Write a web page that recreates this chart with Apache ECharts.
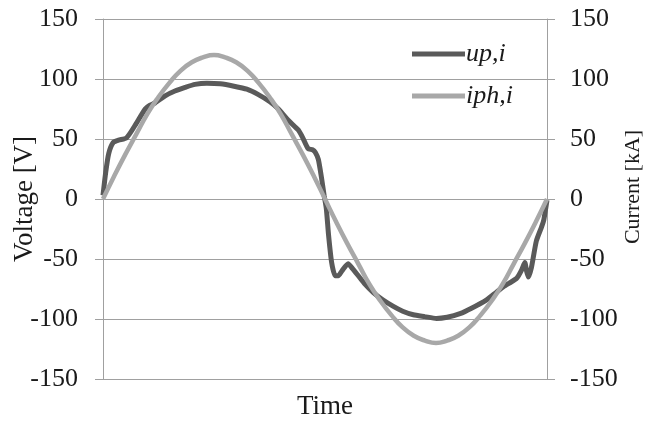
<!DOCTYPE html>
<html>
<head>
<meta charset="utf-8">
<script src="https://cdn.jsdelivr.net/npm/echarts@6/dist/echarts.min.js"></script>
<style>
  html, body { margin: 0; padding: 0; background: #fff; }
  #chart { width: 653px; height: 421px; }
</style>
</head>
<body>
<div id="chart"></div>
<script>
// Phase voltage up,i over one period: [time, volts]
const voltageUp = [
  [0, 3], [0.6, 22], [1.3, 38], [2.3, 47], [3.5, 49], [5.3, 51], [7, 60],
  [9.5, 75], [10.5, 78], [11.7, 80], [14, 86], [16.2, 90], [18.5, 93],
  [20.7, 95.5], [23.4, 96.5], [26.4, 96], [29.5, 94], [32.4, 91.5], [35, 87],
  [37.6, 81], [39.5, 75], [41.4, 67], [43, 61], [44, 57.5], [45, 51],
  [46.2, 42], [47.2, 41], [47.8, 39], [48.5, 33], [49.2, 18], [49.8, 3],
  [50.3, -8], [50.8, -30], [51.5, -53], [52.3, -64], [53, -64], [53.8, -60],
  [55.2, -54], [56.2, -58], [57.5, -64], [59, -71], [60.9, -78], [63, -84],
  [65.4, -89.5], [67.5, -93.5], [69.9, -96.5], [72.5, -98], [75.1, -99.5],
  [77.5, -98.5], [80.4, -95.5], [83, -91], [86.4, -84], [88.5, -78],
  [90.2, -73], [92, -69], [93.2, -66], [94.3, -59], [95, -53], [95.4, -60],
  [95.8, -65], [96.5, -57], [97.6, -35], [98.8, -23], [99.3, -17], [100, -1]
];

// Phase current iph,i sampled every 2.5 time units (kA)
const currentTimes = [
  0, 2.5, 5, 7.5, 10, 12.5, 15, 17.5, 20, 22.5, 25, 27.5, 30, 32.5, 35, 37.5, 40, 42.5, 45, 47.5, 50,
  52.5, 55, 57.5, 60, 62.5, 65, 67.5, 70, 72.5, 75, 77.5, 80, 82.5, 85, 87.5, 90, 92.5, 95, 97.5, 100
];
const currentIph = [
  0, 19, 37, 54, 71, 85, 97, 107, 114, 118, 120, 118, 114, 107, 97, 85, 71, 54, 37, 19, 0,
  -19, -37, -54, -71, -85, -97, -107, -114, -118, -120, -118, -114, -107, -97, -85, -71, -54, -37, -19, 0
];

const seriesNames = ['up,i', 'iph,i'];
const axisTitles = { x: 'Time', left: 'Voltage [V]', right: 'Current [kA]' };

const serif = '"Liberation Serif", "DejaVu Serif", serif';
const textColor = '#1a1a1a';
const lineGray = '#a0a0a0';

const chart = echarts.init(document.getElementById('chart'), null, { renderer: 'canvas' });

const yAxisBase = {
  type: 'value',
  min: -150,
  max: 150,
  interval: 50,
  nameLocation: 'middle',
  nameRotate: 90,
  nameMoveOverlap: false,
  axisLine: { show: true, lineStyle: { color: lineGray, width: 1 } },
  axisTick: { show: true, inside: false, length: 8, lineStyle: { color: lineGray } },
  axisLabel: { fontFamily: serif, fontSize: 26, color: textColor }
};

chart.setOption({
  animation: false,
  backgroundColor: '#ffffff',
  grid: { left: 103, right: 106, top: 19, bottom: 42, containLabel: false, outerBoundsMode: 'none' },
  legend: {
    data: seriesNames,
    orient: 'vertical',
    left: 407,
    top: 36,
    itemGap: 16,
    itemWidth: 53,
    itemHeight: 5,
    icon: 'rect',
    textStyle: { fontFamily: serif, fontSize: 26, fontStyle: 'italic', color: textColor, padding: [0, 0, 0, -4] }
  },
  xAxis: {
    type: 'value',
    min: 0,
    max: 100,
    name: axisTitles.x,
    nameLocation: 'middle',
    nameGap: 14,
    nameMoveOverlap: false,
    nameTextStyle: { fontFamily: serif, fontSize: 27, color: textColor, verticalAlign: 'top' },
    axisLine: { show: true, onZero: false, lineStyle: { color: lineGray, width: 1 } },
    axisTick: { show: false },
    axisLabel: { show: false },
    splitLine: { show: false }
  },
  yAxis: [
    Object.assign({}, yAxisBase, {
      position: 'left',
      name: axisTitles.left,
      nameGap: 65,
      nameTextStyle: { fontFamily: serif, fontSize: 27, color: textColor },
      axisLabel: Object.assign({}, yAxisBase.axisLabel, { margin: 25 }),
      splitLine: { show: true, lineStyle: { color: lineGray, width: 1 } }
    }),
    Object.assign({}, yAxisBase, {
      position: 'right',
      name: axisTitles.right,
      nameGap: 75,
      nameTextStyle: { fontFamily: serif, fontSize: 22, color: textColor, padding: [0, 0, 0, 24] },
      axisLabel: Object.assign({}, yAxisBase.axisLabel, { margin: 23 }),
      splitLine: { show: false }
    })
  ],
  series: [
    {
      name: seriesNames[0],
      type: 'line',
      yAxisIndex: 0,
      data: voltageUp,
      showSymbol: false,
      smooth: 0.2,
      lineStyle: { color: '#5a5a5a', width: 5 },
      itemStyle: { color: '#5a5a5a' },
      z: 2
    },
    {
      name: seriesNames[1],
      type: 'line',
      yAxisIndex: 1,
      data: currentTimes.map((t, i) => [t, currentIph[i]]),
      showSymbol: false,
      smooth: true,
      lineStyle: { color: '#a8a8a8', width: 4.5 },
      itemStyle: { color: '#a8a8a8' },
      z: 3
    }
  ]
});
</script>
</body>
</html>
